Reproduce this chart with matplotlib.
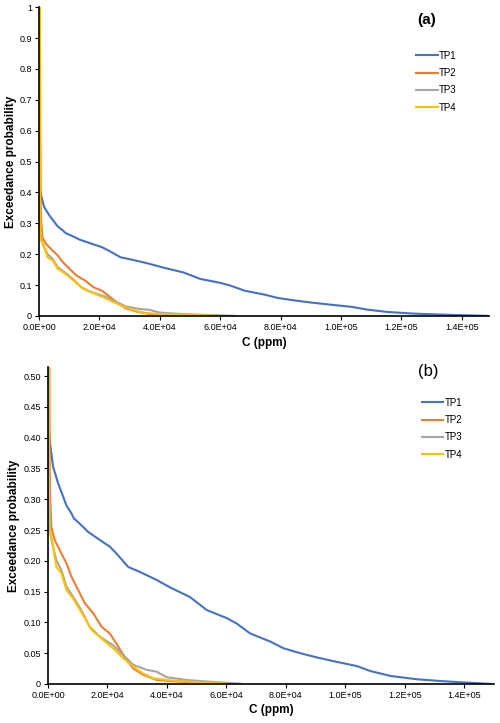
import matplotlib
matplotlib.use("Agg")
import matplotlib.pyplot as plt

plt.rcParams['font.family'] = ['Liberation Sans Narrow', 'Liberation Sans', 'DejaVu Sans']

series_names = ["TP1", "TP2", "TP3", "TP4"]
colors = ["#4472C4", "#ED7D31", "#A5A5A5", "#FFC000"]

tp1_c = [200, 220, 560, 1700, 3400, 6200, 7900, 8700, 11200, 13500, 17400, 20800, 23000,
         27000, 30900, 36500, 41000, 47800, 53400, 60100, 63500, 68000, 74700, 79200,
         84800, 90500, 96100, 103900, 108400, 115200, 124100, 133100, 141000, 149000]
tp1_p = [1.0, 0.423, 0.396, 0.353, 0.326, 0.29, 0.277, 0.269, 0.258, 0.247, 0.234, 0.223, 0.212,
         0.19, 0.182, 0.169, 0.157, 0.141, 0.12, 0.107, 0.098, 0.082, 0.069, 0.058,
         0.050, 0.043, 0.037, 0.029, 0.021, 0.013, 0.0076, 0.0044, 0.0022, 0.0]

tp2_c = [250, 560, 790, 1120, 2250, 4500, 6200, 7900, 10100, 12400, 15200, 18000, 20800,
         23600, 26400, 28700, 32000, 36500, 42100, 51100, 60100]
tp2_p = [1.0, 0.342, 0.299, 0.255, 0.234, 0.212, 0.196, 0.174, 0.153, 0.131, 0.115, 0.093, 0.082,
         0.061, 0.039, 0.025, 0.015, 0.0065, 0.0043, 0.0022, 0.0005]

tp3_c = [220, 220, 560, 790, 1700, 2800, 4500, 6200, 8400, 11200, 14000, 17400, 21900,
         25300, 28700, 33100, 36500, 39900, 46600, 55600, 64600]
tp3_p = [1.0, 0.42, 0.288, 0.245, 0.223, 0.201, 0.185, 0.158, 0.142, 0.12, 0.093, 0.077, 0.063,
         0.047, 0.031, 0.023, 0.020, 0.011, 0.0065, 0.0032, 0.0005]

tp4_c = [250, 340, 560, 1700, 2800, 4500, 6200, 8400, 11200, 14600, 18000, 21900,
         25300, 28700, 32000, 35400, 42100, 51100, 60100]
tp4_p = [1.0, 0.315, 0.25, 0.223, 0.19, 0.18, 0.153, 0.139, 0.117, 0.088, 0.074, 0.058,
         0.042, 0.028, 0.017, 0.0092, 0.0054, 0.0027, 0.0005]

xs = [tp1_c, tp2_c, tp3_c, tp4_c]
ys = [tp1_p, tp2_p, tp3_p, tp4_p]

x_ticks = [0, 2e4, 4e4, 6e4, 8e4, 1e5, 1.2e5, 1.4e5]
x_tick_labels = ["0.0E+00", "2.0E+04", "4.0E+04", "6.0E+04", "8.0E+04", "1.0E+05", "1.2E+05", "1.4E+05"]
ya_ticks = [0, 0.1, 0.2, 0.3, 0.4, 0.5, 0.6, 0.7, 0.8, 0.9, 1.0]
ya_labels = ["0", "0.1", "0.2", "0.3", "0.4", "0.5", "0.6", "0.7", "0.8", "0.9", "1"]
yb_ticks = [0, 0.05, 0.10, 0.15, 0.20, 0.25, 0.30, 0.35, 0.40, 0.45, 0.50]
yb_labels = ["0", "0.05", "0.10", "0.15", "0.20", "0.25", "0.30", "0.35", "0.40", "0.45", "0.50"]

fig = plt.figure(figsize=(5, 7.23), dpi=100)
ax_a = fig.add_axes([0.078, 0.563, 0.900, 0.427])
ax_b = fig.add_axes([0.096, 0.054, 0.892, 0.4385])

def style(ax, yt, yl, ylim, xmax, tag, tag_xy, tag_kw, leg_y, xlabpad, ylab_x):
    for name, c, x, y in zip(series_names, colors, xs, ys):
        ax.plot(x, y, color=c, lw=1.5, label=name, solid_joinstyle='round')
    ax.set_xlim(0, xmax)
    ax.set_ylim(*ylim)
    ax.set_xticks(x_ticks)
    ax.set_xticklabels(x_tick_labels)
    ax.set_yticks(yt)
    ax.set_yticklabels(yl)
    for s in ["top", "right"]:
        ax.spines[s].set_visible(False)
    for s in ["left", "bottom"]:
        ax.spines[s].set_linewidth(1.2)
        ax.spines[s].set_color("black")
    ax.tick_params(axis='both', labelsize=6.5, length=3, width=0.8, pad=2)
    ax.set_ylabel("Exceedance probability", fontsize=8.5, fontweight='bold')
    ax.yaxis.set_label_coords(ylab_x, 0.5)
    ax.set_xlabel("C (ppm)", fontsize=8.5, fontweight='bold', labelpad=xlabpad)
    ax.text(tag_xy[0], tag_xy[1], tag, transform=ax.transAxes,
            ha='center', va='center', **tag_kw)
    ax.legend(loc='upper left', bbox_to_anchor=(0.83, leg_y), frameon=False, fontsize=7,
              handlelength=2.2, handletextpad=0.1, labelspacing=0.75, borderaxespad=0)

style(ax_a, ya_ticks, ya_labels, (0, 1.0), 1.49e5, "(a)", (0.862, 0.958),
      dict(fontsize=11, fontweight='bold', family=['Liberation Sans', 'DejaVu Sans']),
      0.872, 4, -0.048)
style(ax_b, yb_ticks, yb_labels, (0, 0.515), 1.5e5, "(b)", (0.852, 0.984),
      dict(fontsize=12),
      0.915, 3, -0.062)

fig.savefig("out.png", dpi=100)
